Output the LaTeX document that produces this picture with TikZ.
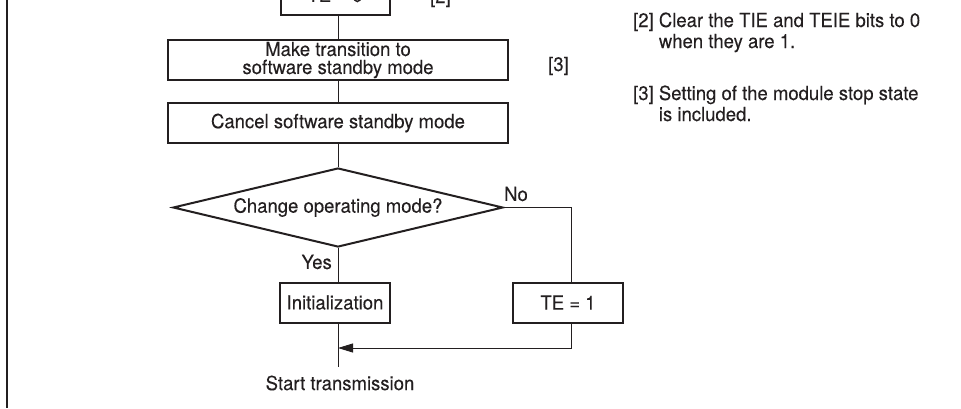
\documentclass[tikz,border=0pt]{standalone}
\usepackage{fontspec}
\setmainfont[FakeStretch=0.95,FakeBold=0.12]{TeX Gyre Heros}
\usetikzlibrary{shapes.geometric,arrows.meta}
\definecolor{ink}{RGB}{35,31,32}
\begin{document}
\begin{tikzpicture}[x=1pt,y=-1pt,
  every node/.style={font=\fontsize{19.5}{18}\selectfont, text=ink},
  box/.style={draw=ink, line width=2pt, rectangle, inner sep=0pt, align=center},
  dec/.style={draw=ink, line width=2pt, diamond, shape aspect=4.18, inner sep=0pt, minimum width=330pt, minimum height=79pt},
  conn/.style={draw=ink, line width=0.9pt},
  arr/.style={conn, -{Triangle[length=15pt,width=9pt]}},
  lbl/.style={inner sep=0pt, anchor=base west},
  plain/.style={inner sep=0pt},
]
\clip (0,0) rectangle (961,408);
% left border
\draw[ink, line width=2.3pt] (6.8,0) -- (6.8,408);

% nodes
\node[box, minimum width=109pt, minimum height=40pt] (te0) at (335,-5) {TE = 0};
\node[lbl] (n2) at (430,3) {[2]};
\node[box, minimum width=340pt, minimum height=40pt] (mk) at (338,60) {Make transition to\\software standby mode};
\node[lbl] (n3) at (548,71) {[3]};
\node[box, minimum width=340pt, minimum height=40pt] (cs) at (338,123) {Cancel software standby mode};
\node[dec] (dia) at (338,207.5) {Change operating mode?};
\node[plain] (no) at (516,194) {No};
\coordinate (cr) at (571,207.5);
\node[plain, anchor=east] (yes) at (332,262) {Yes};
\node[box, minimum width=110pt, minimum height=40pt] (init) at (335,302.5) {Initialization};
\node[box, minimum width=110pt, minimum height=40pt] (te1) at (568,302.5) {TE = 1};
\coordinate (mrg) at (338,348);
\coordinate (end) at (338,367);
\node[plain] (st) at (340,383) {Start transmission};

% notes
\node[lbl] (note2) at (633,27) {\fontsize{19.5}{21}\selectfont\begin{tabular}[t]{@{}l@{\hspace{5.1pt}}l@{}}[2] & Clear the TIE and TEIE bits to 0\\ & when they are 1.\end{tabular}};
\node[lbl] (note3) at (633,100) {\fontsize{19.5}{21}\selectfont\begin{tabular}[t]{@{}l@{\hspace{5.1pt}}l@{}}[3] & Setting of the module stop state\\ & is included.\end{tabular}};

% connectors
\draw[conn] (te0.south -| mk.north) -- (mk.north);
\draw[conn] (mk.south) -- (cs.north);
\draw[conn] (cs.south) -- (dia.north);
\draw[conn] (dia.south) -- (init.north -| dia.south);
\draw[conn] (dia.east) -- (cr) -- (cr |- te1.north);
\draw[arr] (cr |- te1.south) |- (mrg);
\draw[conn] (init.south -| dia.south) -- (end);
\end{tikzpicture}
\end{document}
